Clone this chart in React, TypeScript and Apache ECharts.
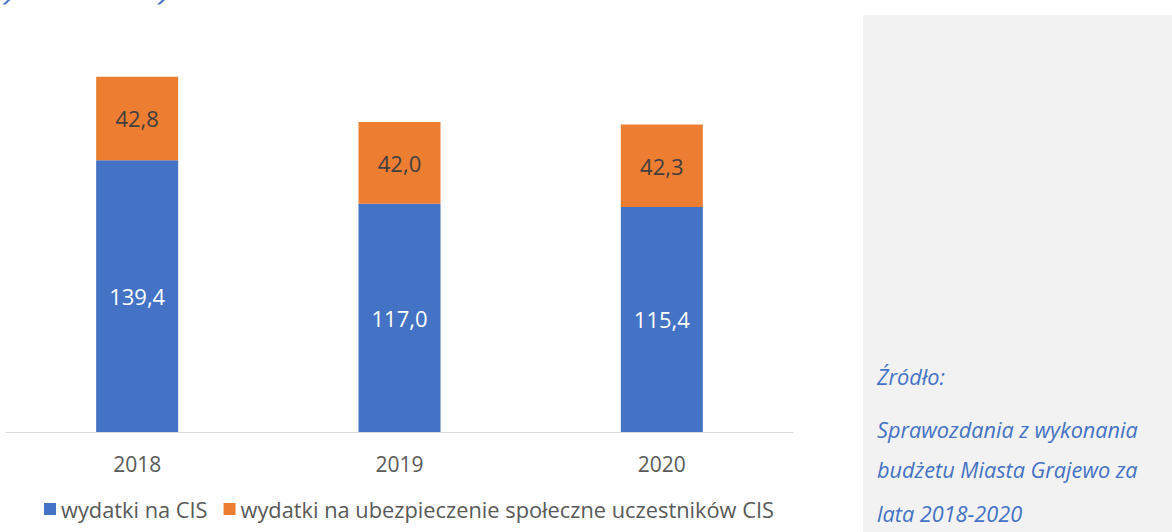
import React, { useEffect, useRef } from "react";
import * as echarts from "echarts";

const categories = ["2018", "2019", "2020"];
const seriesNames = ["wydatki na CIS", "wydatki na ubezpieczenie społeczne uczestników CIS"];
const cisValues = [139.4, 117.0, 115.4];
const insuranceValues = [42.8, 42.0, 42.3];
const sourceLines = ["Źródło:", "Sprawozdania z wykonania", "budżetu Miasta Grajewo za", "lata 2018-2020"];

const FONT = "'Open Sans', 'Noto Sans', sans-serif";
const fmt = (v: number) => v.toFixed(1).replace(".", ",");

export default function App() {
  const ref = useRef<HTMLDivElement>(null);
  useEffect(() => {
    if (!ref.current) return;
    const chart = echarts.init(ref.current, undefined, { renderer: "svg" });
    const baselines = [388, 441, 481, 525];
    chart.setOption({
      animation: false,
      backgroundColor: "#ffffff",
      textStyle: { fontFamily: FONT },
      grid: { left: 6, right: 379, top: 42, bottom: 100, containLabel: false },
      legend: {
        left: 39,
        top: 493,
        itemWidth: 12,
        itemHeight: 12,
        itemGap: 16,
        icon: "rect",
        textStyle: { fontFamily: FONT, fontSize: 21.8, color: "#595959" },
        data: seriesNames,
      },
      xAxis: {
        type: "category",
        data: categories,
        axisLine: { show: true, lineStyle: { color: "#d9d9d9", width: 1 } },
        axisTick: { show: false },
        axisLabel: { fontFamily: FONT, fontSize: 21, color: "#595959", margin: 21 },
      },
      yAxis: {
        type: "value",
        min: 0,
        max: 200,
        show: false,
        splitLine: { show: false },
      },
      series: [
        {
          name: seriesNames[0],
          type: "bar",
          stack: "total",
          barWidth: 82,
          data: cisValues,
          itemStyle: { color: "#4472c4" },
          label: {
            show: true,
            position: "inside",
            fontFamily: FONT,
            fontSize: 22,
            color: "#ffffff",
            formatter: (p: any) => fmt(p.value),
          },
        },
        {
          name: seriesNames[1],
          type: "bar",
          stack: "total",
          barWidth: 82,
          data: insuranceValues,
          itemStyle: { color: "#ed7d31" },
          label: {
            show: true,
            position: "inside",
            fontFamily: FONT,
            fontSize: 22,
            color: "#404040",
            formatter: (p: any) => fmt(p.value),
          },
        },
      ],
      graphic: [
        {
          type: "rect",
          shape: { x: 863, y: 15, width: 320, height: 530 },
          style: { fill: "#f2f2f2" },
          silent: true,
        },
        {
          type: "polygon",
          shape: { points: [[7.5, 0], [10.5, 0], [5.5, 4.5], [2.5, 4.5]] },
          style: { fill: "#4472c4" },
        },
        {
          type: "polygon",
          shape: { points: [[162, 0], [165, 0], [160, 4.5], [157, 4.5]] },
          style: { fill: "#4472c4" },
        },
        ...sourceLines.map((t, i) => ({
          type: "text",
          x: 877,
          y: baselines[i] - 12,
          style: {
            text: t,
            fontFamily: FONT,
            fontStyle: "italic",
            fontSize: 21.7,
            fill: "#4472c4",
            verticalAlign: "middle",
            align: "left",
          },
        })),
      ],
    });
    return () => chart.dispose();
  }, []);
  return (
    <div style={{ position: "fixed", left: 0, top: 0, width: 1172, height: 532 }}>
      <div ref={ref} style={{ width: 1172, height: 532 }} />
    </div>
  );
}
